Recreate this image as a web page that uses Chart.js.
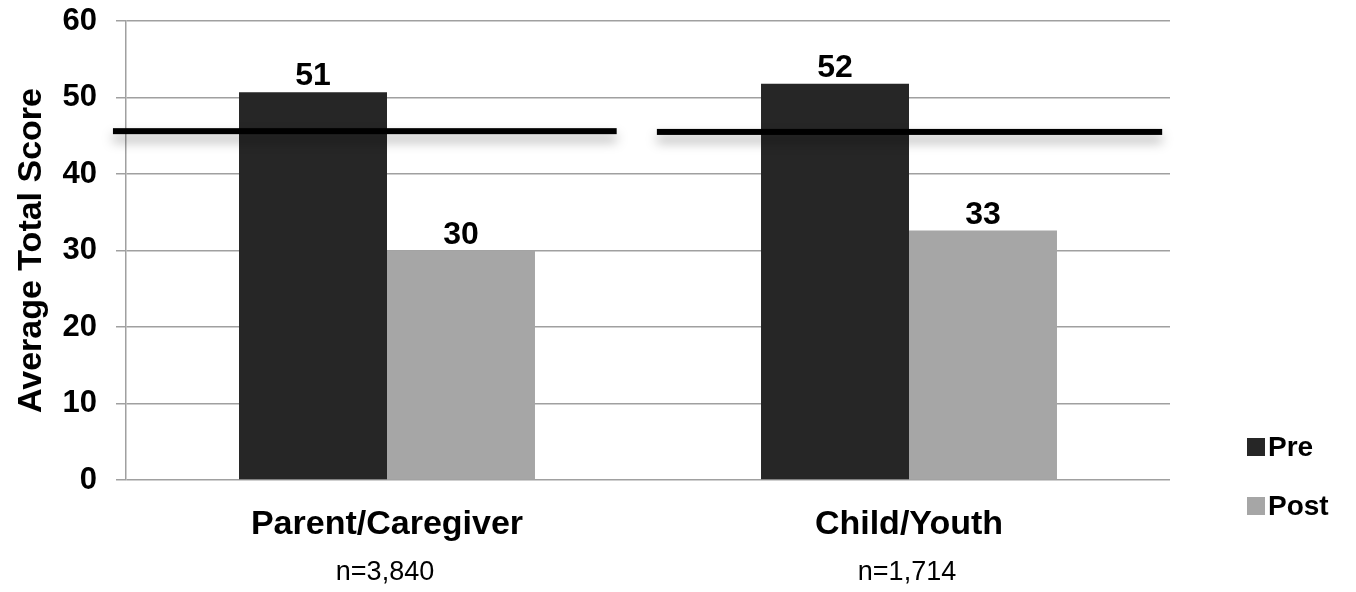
<!DOCTYPE html>
<html>
<head>
<meta charset="utf-8">
<style>
  html, body { margin: 0; padding: 0; background: #ffffff; }
  #wrap { position: relative; width: 1356px; height: 592px; }
</style>
<script src="https://cdn.jsdelivr.net/npm/chart.js@4/dist/chart.umd.min.js"></script>
</head>
<body>
<div id="wrap"><canvas id="chart" width="1356" height="592"></canvas></div>
<script>
// Respondent groups and their sample sizes
const categories = ['Parent/Caregiver', 'Child/Youth'];
const sampleSizes = ['n=3,840', 'n=1,714'];

// Average total scores before and after
const preScores = [50.7, 51.8];
const postScores = [30.0, 32.6];

// Clinical cutoff score, drawn as a bar across each group
const cutoffScores = [45.6, 45.5];
const cutoffSpans = [[-0.525, 0.44], [0.517, 1.485]];

// Y axis ticks
const yTicks = [0, 10, 20, 30, 40, 50, 60];

const FONT = '"Liberation Sans", Arial, sans-serif';

const overlayPlugin = {
  id: 'overlay',
  afterDatasetsDraw(chart) {
    const ctx = chart.ctx;
    const xs = chart.scales.x, ys = chart.scales.y;

    // cutoff bars with soft drop shadow
    ctx.save();
    cutoffScores.forEach((v, i) => {
      const y = ys.getPixelForValue(v);
      const x0 = xs.getPixelForValue(cutoffSpans[i][0]);
      const x1 = xs.getPixelForValue(cutoffSpans[i][1]);
      ctx.shadowColor = 'rgba(0,0,0,0.35)';
      ctx.shadowBlur = 12;
      ctx.shadowOffsetY = 7;
      ctx.fillStyle = '#000000';
      ctx.fillRect(x0, y - 3, x1 - x0, 6);
    });
    ctx.restore();

    // value labels above bars
    ctx.save();
    ctx.font = 'bold 32px ' + FONT;
    ctx.fillStyle = '#000000';
    ctx.textAlign = 'center';
    ctx.textBaseline = 'alphabetic';
    chart.data.datasets.forEach((ds, di) => {
      const meta = chart.getDatasetMeta(di);
      meta.data.forEach((bar, i) => {
        ctx.fillText(String(Math.round(ds.data[i])), bar.x, bar.y - 7);
      });
    });
    ctx.restore();
  },
  afterDraw(chart) {
    const ctx = chart.ctx;
    const xs = chart.scales.x;
    const area = chart.chartArea;

    // sample size under each category
    ctx.save();
    ctx.font = '27px ' + FONT;
    ctx.fillStyle = '#000000';
    ctx.textAlign = 'center';
    ctx.textBaseline = 'alphabetic';
    sampleSizes.forEach((s, i) => {
      ctx.fillText(s, xs.getPixelForValue(i) - 2, area.bottom + 100);
    });
    ctx.restore();

    // legend on the right
    ctx.save();
    ctx.font = 'bold 28px ' + FONT;
    ctx.textAlign = 'left';
    ctx.textBaseline = 'middle';
    chart.data.datasets.forEach((ds, i) => {
      const cy = area.bottom - 33 + i * 59;
      const bx = area.right + 77;
      ctx.fillStyle = ds.backgroundColor;
      ctx.fillRect(bx, cy - 9, 18, 18);
      ctx.fillStyle = '#000000';
      ctx.fillText(ds.label, bx + 21, cy + 1);
    });
    ctx.restore();
  }
};

new Chart(document.getElementById('chart'), {
  type: 'bar',
  data: {
    labels: categories,
    datasets: [
      { label: 'Pre', data: preScores, backgroundColor: '#262626', borderWidth: 0 },
      { label: 'Post', data: postScores, backgroundColor: '#a6a6a6', borderWidth: 0 }
    ]
  },
  options: {
    responsive: false,
    animation: false,
    devicePixelRatio: 1,
    layout: { padding: { left: 0, right: 186, top: 21, bottom: 0 } },
    plugins: {
      legend: { display: false },
      tooltip: { enabled: false }
    },
    datasets: {
      bar: { categoryPercentage: 0.567, barPercentage: 1.0 }
    },
    scales: {
      x: {
        grid: { display: false, drawTicks: false },
        border: { display: false },
        ticks: {
          color: '#000000',
          font: { family: FONT, size: 34, weight: 'bold' },
          padding: 24
        },
        afterFit(scale) { scale.height = 112; }
      },
      y: {
        min: 0,
        max: 60,
        afterBuildTicks(scale) { scale.ticks = yTicks.map(v => ({ value: v })); },
        grid: { color: '#a0a0a0', lineWidth: 1.5, tickLength: 10, drawTicks: true },
        border: { display: true, color: '#a0a0a0', width: 1.5 },
        ticks: {
          color: '#000000',
          font: { family: FONT, size: 31, weight: 'bold' },
          padding: 19
        },
        title: {
          display: true,
          text: 'Average Total Score',
          color: '#000000',
          font: { family: FONT, size: 34, weight: 'bold' },
          padding: { top: 11, bottom: 0 }
        },
        afterFit(scale) {
          scale.width = 126;
          scale.paddingTop = 0;
          scale.paddingBottom = 0;
        }
      }
    }
  },
  plugins: [overlayPlugin]
});
</script>
</body>
</html>
